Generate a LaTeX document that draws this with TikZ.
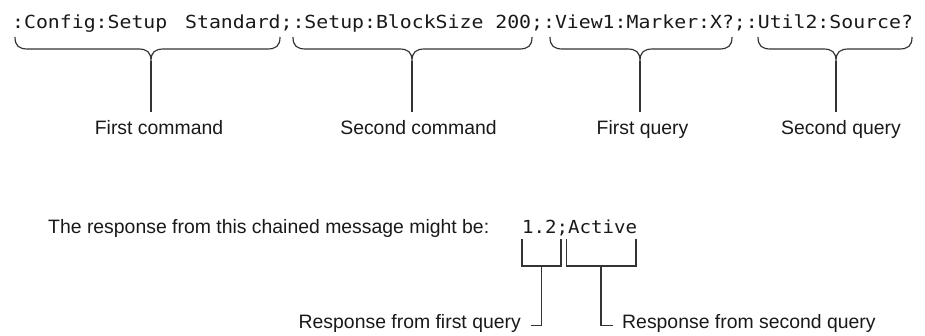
\documentclass[tikz,border=0pt]{standalone}
\usepackage{fontspec}
\setmainfont{Liberation Sans}
\newfontfamily\mymono{DejaVu Sans Mono}
\newcommand\mybrace[3]{%
  \draw[ln] (#1,37) .. controls (#1,46) and (#1+4,49) .. (#1+13,49)
    -- (#2-13,49) .. controls (#2-4,49) and (#2,52) .. (#2,61)
    .. controls (#2,52) and (#2+4,49) .. (#2+13,49)
    -- (#3-13,49) .. controls (#3-4,49) and (#3,46) .. (#3,37);}
\begin{document}
\begin{tikzpicture}[x=1pt,y=-1pt,
  lbl/.style={font=\fontsize{19.4}{22}\selectfont, text=black!90, inner sep=0pt, anchor=base},
  code/.style={font=\mymono\fontsize{18}{22}\selectfont, text=black!90, inner sep=0pt, anchor=base west},
  ln/.style={line width=1.2pt, draw=black!80},
]
\useasboundingbox (0,0) rectangle (925,335);

% top command line
\node[code] (cmd) at (12,28) {\scalebox{1.101}[1]{:Config:Setup~\kern5.4pt Standard;:Setup:BlockSize~200;:View1:Marker:X?;:Util2:Source?}};

% braces
\mybrace{15}{151}{280}
\mybrace{293}{412}{532}
\mybrace{550}{640}{732}
\mybrace{758}{836}{912}

\coordinate (t1) at (151,61);
\coordinate (t2) at (412,61);
\coordinate (t3) at (640,61);
\coordinate (t4) at (836,61);
\coordinate (e1) at (151,112);
\coordinate (e2) at (412,112);
\coordinate (e3) at (640,112);
\coordinate (e4) at (836,112);

\node[lbl] (l1) at (159,134) {First command};
\node[lbl] (l2) at (418.5,134) {Second command};
\node[lbl] (l3) at (642.5,134) {First query};
\node[lbl] (l4) at (841,134) {Second query};

\draw[ln] (t1) -- (e1);
\draw[ln] (t2) -- (e2);
\draw[ln] (t3) -- (e3);
\draw[ln] (t4) -- (e4);

% response line
\node[lbl, anchor=base west] (q) at (48,233) {The response from this chained message might be:};
\node[code] (resp) at (522,233) {\scalebox{1.061}[1]{1.2;Active}};

% brackets
\coordinate (a1) at (522,239);
\coordinate (a2) at (561,239);
\coordinate (b1) at (566.7,239);
\coordinate (b2) at (636,239);
\coordinate (m1) at (541.7,266);
\coordinate (m2) at (601,266);
\draw[ln] (a1) |- (m1) -| (a2);
\draw[ln] (b1) |- (m2) -| (b2);

\node[lbl, anchor=base east] (r1) at (521,328) {Response from first query};
\node[lbl, anchor=base west] (r2) at (622,328) {Response from second query};

\draw[ln] (m1) |- ([xshift=10pt]r1.mid east);
\draw[ln] (m2) |- ([xshift=-9pt]r2.mid west);
\end{tikzpicture}
\end{document}
